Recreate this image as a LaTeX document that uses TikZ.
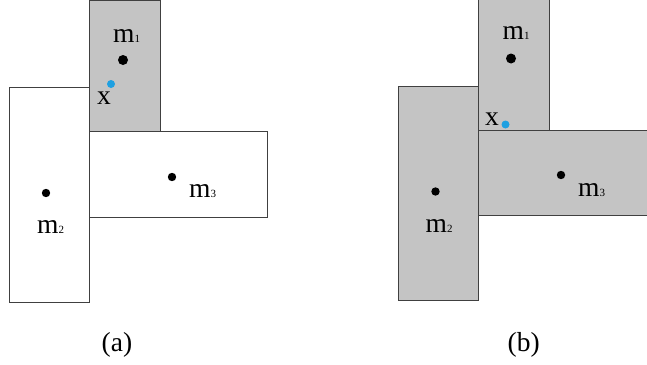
\documentclass[tikz,border=0pt]{standalone}
\usepackage{fontspec}
\setmainfont{Liberation Serif}
\begin{document}
\begin{tikzpicture}[x=1pt,y=-1pt,
  box/.style={draw=black!75,line width=0.9pt},
  grey/.style={box,fill=boxgrey},
  dot/.style={fill=black},
  bdot/.style={fill=xblue},
  lab/.style={anchor=base west,inner sep=0pt,font=\fontsize{27.5}{27.5}\selectfont}]
\definecolor{boxgrey}{RGB}{196,196,196}
\definecolor{xblue}{RGB}{30,160,225}
\newcommand{\subdig}[1]{{\fontsize{11}{11}\selectfont #1}}
\useasboundingbox (0,0) rectangle (647,364);
% ---------- (a)
\draw[box,fill=white] (9.5,87.5) rectangle (89.5,302);
\draw[box,fill=white] (89.5,131) rectangle (267,217);
\draw[grey] (89.5,0.5) rectangle (160,131);
\fill[dot] (123,60) circle (5);
\fill[dot] (46,193) circle (4.2);
\fill[dot] (172,177) circle (4.2);
\fill[bdot] (111,84) circle (4);
\node[lab] (a1) at (113,42) {m\subdig{1}};
\node[lab] (ax) at (97,104) {x};
\node[lab] (a2) at (37,233) {m\subdig{2}};
\node[lab] (a3) at (189,197) {m\subdig{3}};
\node[lab] (capa) at (101.5,351) {(a)};
% ---------- (b)
\draw[grey] (398.5,86) rectangle (478,300);
\draw[grey] (478,130) rectangle (647.5,215);
\draw[grey] (478,-1) rectangle (549.5,130);
\fill[dot] (511,58.5) circle (5);
\fill[dot] (435.5,191.5) circle (4.2);
\fill[dot] (561,175) circle (4.2);
\fill[bdot] (505.5,124.5) circle (4);
\node[lab] (b1) at (502.5,39) {m\subdig{1}};
\node[lab] (bx) at (485,125) {x};
\node[lab] (b2) at (425.5,232) {m\subdig{2}};
\node[lab] (b3) at (578,196) {m\subdig{3}};
\node[lab] (capb) at (507.5,351) {(b)};
\end{tikzpicture}
\end{document}
